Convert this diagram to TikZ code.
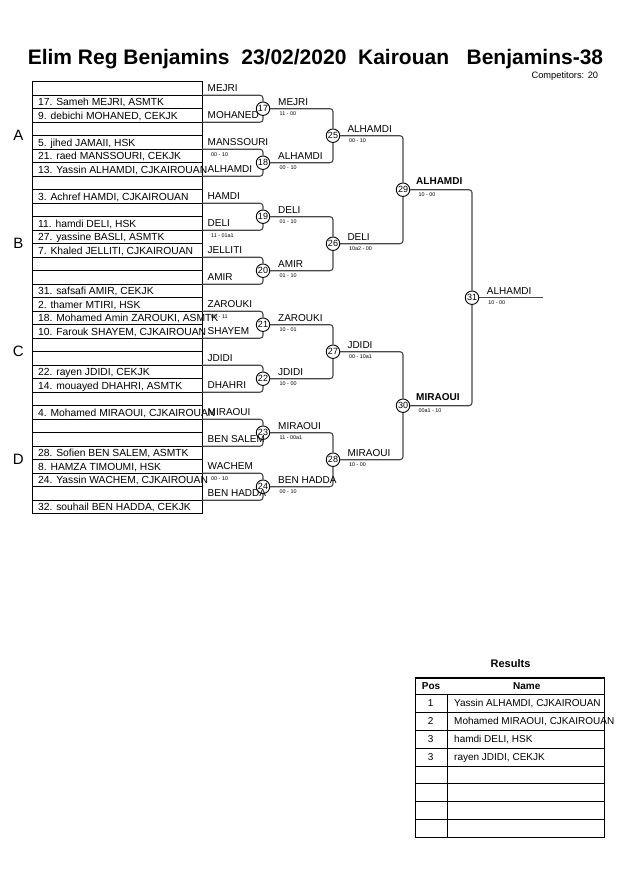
\documentclass[tikz,border=0pt]{standalone}
\usepackage{fontspec}
\setmainfont{Liberation Sans}
\begin{document}
\begin{tikzpicture}[x=1pt,y=-1pt,
  rowtxt/.style={anchor=base west,inner sep=0pt,font=\fontsize{10.3}{12}\selectfont},
  lbl/.style={anchor=base west,inner sep=0pt,font=\fontsize{10}{12}\selectfont},
  blbl/.style={anchor=base west,inner sep=0pt,font=\fontsize{10}{12}\selectfont\bfseries},
  score/.style={anchor=base west,inner sep=0pt,font=\fontsize{5.4}{6}\selectfont},
  grp/.style={inner sep=0pt,font=\fontsize{15}{16}\selectfont},
  mcirc/.style={circle,draw=black,line width=0.9pt,minimum size=13.5pt,inner sep=0pt,font=\fontsize{9}{10}\selectfont},
  conn/.style={draw=black!72,line width=1.1pt,rounded corners=3pt},
  thinrow/.style={draw=black,line width=0.7pt},
  thickrow/.style={draw=black,line width=1.4pt},
  tabtxt/.style={inner sep=0pt,font=\fontsize{10}{12}\selectfont},
]
\useasboundingbox (0,0) rectangle (630,891);
% title
\node[anchor=base,inner sep=0pt,font=\fontsize{21}{25}\selectfont\bfseries] (title) at (315.5,65) {Elim Reg Benjamins\ \ 23/02/2020\ \ Kairouan\ \ \ Benjamins-38};
\node[anchor=base east,inner sep=0pt,font=\fontsize{9.3}{11}\selectfont] (comp) at (598.3,78.3) {Competitors: 20};
% left box
\foreach \b in {1,3,...,31} \draw[thinrow] (32,{81.7+13.5*\b}) -- (202,{81.7+13.5*\b});
\foreach \b in {2,4,...,30} \draw[thickrow] (32,{81.7+13.5*\b}) -- (202,{81.7+13.5*\b});
\draw[line width=0.9pt] (32,81.7) rectangle (202,513.7);
% group letters
\node[grp] (gA) at (18.3,135.7) {A};
\node[grp] (gB) at (18.3,243.7) {B};
\node[grp] (gC) at (18.3,351.7) {C};
\node[grp] (gD) at (18.3,459.7) {D};
% row texts
\node[rowtxt] (p2) at (38,105.7) {17. Sameh MEJRI, ASMTK};
\node[rowtxt] (p3) at (38,119.2) {9. debichi MOHANED, CEKJK};
\node[rowtxt] (p5) at (38,146.2) {5. jihed JAMAII, HSK};
\node[rowtxt] (p6) at (38,159.7) {21. raed MANSSOURI, CEKJK};
\node[rowtxt] (p7) at (38,173.2) {13. Yassin ALHAMDI, CJKAIROUAN};
\node[rowtxt] (p9) at (38,200.2) {3. Achref HAMDI, CJKAIROUAN};
\node[rowtxt] (p11) at (38,227.2) {11. hamdi DELI, HSK};
\node[rowtxt] (p12) at (38,240.7) {27. yassine BASLI, ASMTK};
\node[rowtxt] (p13) at (38,254.2) {7. Khaled JELLITI, CJKAIROUAN};
\node[rowtxt] (p16) at (38,294.7) {31. safsafi AMIR, CEKJK};
\node[rowtxt] (p17) at (38,308.2) {2. thamer MTIRI, HSK};
\node[rowtxt] (p18) at (38,321.7) {18. Mohamed Amin ZAROUKI, ASMTK};
\node[rowtxt] (p19) at (38,335.2) {10. Farouk SHAYEM, CJKAIROUAN};
\node[rowtxt] (p22) at (38,375.7) {22. rayen JDIDI, CEKJK};
\node[rowtxt] (p23) at (38,389.2) {14. mouayed DHAHRI, ASMTK};
\node[rowtxt] (p25) at (38,416.2) {4. Mohamed MIRAOUI, CJKAIROUAN};
\node[rowtxt] (p28) at (38,456.7) {28. Sofien BEN SALEM, ASMTK};
\node[rowtxt] (p29) at (38,470.2) {8. HAMZA TIMOUMI, HSK};
\node[rowtxt] (p30) at (38,483.7) {24. Yassin WACHEM, CJKAIROUAN};
\node[rowtxt] (p32) at (38,510.7) {32. souhail BEN HADDA, CEKJK};
% right-of-box labels
\node[lbl] (l1) at (207.5,91.2) {MEJRI};
\node[lbl] (l3) at (207.5,118.2) {MOHANED};
\node[lbl] (l5) at (207.5,145.2) {MANSSOURI};
\node[lbl] (l7) at (207.5,172.2) {ALHAMDI};
\node[lbl] (l9) at (207.5,199.2) {HAMDI};
\node[lbl] (l11) at (207.5,226.2) {DELI};
\node[lbl] (l13) at (207.5,253.2) {JELLITI};
\node[lbl] (l15) at (207.5,280.2) {AMIR};
\node[lbl] (l17) at (207.5,307.2) {ZAROUKI};
\node[lbl] (l19) at (207.5,334.2) {SHAYEM};
\node[lbl] (l21) at (207.5,361.2) {JDIDI};
\node[lbl] (l23) at (207.5,388.2) {DHAHRI};
\node[lbl] (l25) at (207.5,415.2) {MIRAOUI};
\node[lbl] (l27) at (207.5,442.2) {BEN SALEM};
\node[lbl] (l29) at (207.5,469.2) {WACHEM};
\node[lbl] (l31) at (207.5,496.2) {BEN HADDA};
% preliminary scores
\node[score] (s6) at (211,156.5) {00 - 10};
\node[score] (s12) at (211,237.5) {11 - 01a1};
\node[score] (s18) at (211,318.5) {00 - 11};
\node[score] (s30) at (211,480.5) {00 - 10};
% match circles
\node[mcirc] (m17) at (263,108.7) {17};
\node[mcirc] (m18) at (263,162.7) {18};
\node[mcirc] (m19) at (263,216.7) {19};
\node[mcirc] (m20) at (263,270.7) {20};
\node[mcirc] (m21) at (263,324.7) {21};
\node[mcirc] (m22) at (263,378.7) {22};
\node[mcirc] (m23) at (263,432.7) {23};
\node[mcirc] (m24) at (263,486.7) {24};
\node[mcirc] (m25) at (333,135.7) {25};
\node[mcirc] (m26) at (333,243.7) {26};
\node[mcirc] (m27) at (333,351.7) {27};
\node[mcirc] (m28) at (333,459.7) {28};
\node[mcirc] (m29) at (403,189.7) {29};
\node[mcirc] (m30) at (403,405.7) {30};
\node[mcirc] (m31) at (472,297.7) {31};
% bracket entry coordinates
\foreach \n/\t/\bt in {17/95.2/122.2,18/149.2/176.2,19/203.2/230.2,20/257.2/284.2,21/311.2/338.2,22/365.2/392.2,23/419.2/446.2,24/473.2/500.2}{
  \coordinate (a\n) at (202,\t);
  \coordinate (b\n) at (202,\bt);
  \draw[conn] (a\n) -| (m\n);
  \draw[conn] (b\n) -| (m\n);
}
\coordinate (fin) at (542.7,297.7);
\draw[conn] (m17) -| (m25);
\draw[conn] (m18) -| (m25);
\draw[conn] (m19) -| (m26);
\draw[conn] (m20) -| (m26);
\draw[conn] (m21) -| (m27);
\draw[conn] (m22) -| (m27);
\draw[conn] (m23) -| (m28);
\draw[conn] (m24) -| (m28);
\draw[conn] (m25) -| (m29);
\draw[conn] (m26) -| (m29);
\draw[conn] (m27) -| (m30);
\draw[conn] (m28) -| (m30);
\draw[conn] (m29) -| (m31);
\draw[conn] (m30) -| (m31);
\draw[conn] (m31) -- (fin);
% winner labels and scores
\foreach \n/\x/\y/\w/\s in {17/278/108.7/MEJRI/11 - 00,18/278/162.7/ALHAMDI/00 - 10,19/278/216.7/DELI/01 - 10,20/278/270.7/AMIR/01 - 10,21/278/324.7/ZAROUKI/10 - 01,22/278/378.7/JDIDI/10 - 00,23/278/432.7/MIRAOUI/11 - 00a1,24/278/486.7/BEN HADDA/00 - 10,25/347.3/135.7/ALHAMDI/00 - 10,26/347.3/243.7/DELI/10a2 - 00,27/347.3/351.7/JDIDI/00 - 10a1,28/347.3/459.7/MIRAOUI/10 - 00,31/486.7/297.7/ALHAMDI/10 - 00}{
  \node[lbl] (w\n) at (\x,\y-3.6) {\w};
  \node[score] (ws\n) at (\x+1.5,\y+6.9) {\s};
}
\node[blbl] (w29) at (416,184.9) {ALHAMDI};
\node[score] (ws29) at (418.3,196.6) {10 - 00};
\node[blbl] (w30) at (416,400.9) {MIRAOUI};
\node[score] (ws30) at (418.3,412.6) {00a1 - 10};
% results table
\node[anchor=base,inner sep=0pt,font=\fontsize{11}{13}\selectfont\bfseries] (restitle) at (510.5,667.3) {Results};
\foreach \k in {1,...,7} \draw[line width=0.8pt] (415.5,{694.3+17.9*\k}) -- (604.5,{694.3+17.9*\k});
\draw[line width=1.3pt] (415.5,694.3) -- (604.5,694.3);
\draw[line width=0.8pt] (447.3,694.3) -- (447.3,837.5);
\draw[line width=1.8pt] (415.5,678.3) rectangle (604.5,837.5);
\node[tabtxt,anchor=base,font=\fontsize{10}{12}\selectfont\bfseries] (hpos) at (431,689) {Pos};
\node[tabtxt,anchor=base,font=\fontsize{10}{12}\selectfont\bfseries] (hname) at (526.7,689) {Name};
\foreach \k/\p/\nm in {1/1/{Yassin ALHAMDI, CJKAIROUAN},2/2/{Mohamed MIRAOUI, CJKAIROUAN},3/3/{hamdi DELI, HSK},4/3/{rayen JDIDI, CEKJK}}{
  \node[tabtxt,anchor=base] (rp\k) at (430.7,{694.3+17.9*(\k-1)+12.4}) {\p};
  \node[tabtxt,anchor=base west] (rn\k) at (454,{694.3+17.9*(\k-1)+12.4}) {\nm};
}
\end{tikzpicture}
\end{document}
